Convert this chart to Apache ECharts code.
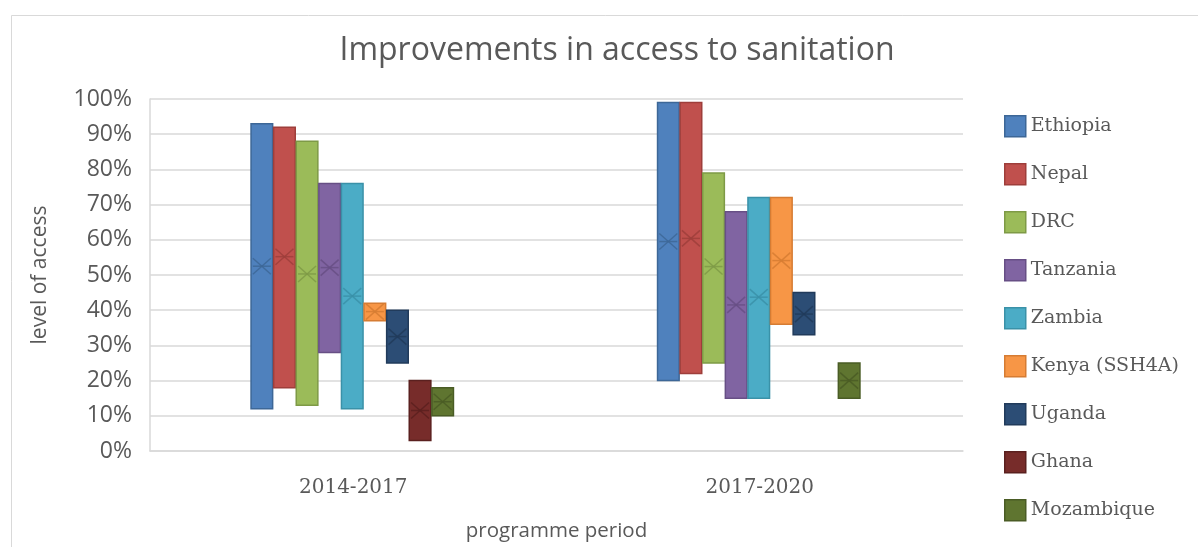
<!DOCTYPE html>
<html>
<head>
<meta charset="utf-8">
<style>
  html, body { margin: 0; padding: 0; background: #fff; }
  #chart { width: 1198px; height: 547px; }
</style>
<script src="https://cdn.jsdelivr.net/npm/echarts@6/dist/echarts.min.js"></script>
</head>
<body>
<div id="chart"></div>
<script>
// categories
const periods = ['2014-2017', '2017-2020']
const countries = ['Ethiopia', 'Nepal', 'DRC', 'Tanzania', 'Zambia', 'Kenya (SSH4A)', 'Uganda', 'Ghana', 'Mozambique']

// 2014-2017 (fractions of population)
const low1  = [0.12, 0.18, 0.13, 0.28, 0.12, 0.37, 0.25, 0.03, 0.10]
const high1 = [0.93, 0.92, 0.88, 0.76, 0.76, 0.42, 0.40, 0.20, 0.18]
const mean1 = [0.525, 0.552, 0.503, 0.521, 0.44, 0.396, 0.325, 0.115, 0.14]

// 2017-2020 (Ghana has no value)
const low2  = [0.20, 0.22, 0.25, 0.15, 0.15, 0.36, 0.33, null, 0.15]
const high2 = [0.99, 0.99, 0.79, 0.68, 0.72, 0.72, 0.45, null, 0.25]
const mean2 = [0.595, 0.604, 0.524, 0.415, 0.437, 0.541, 0.389, null, 0.20]

const fills   = ['#4F81BD', '#C0504D', '#9BBB59', '#8064A2', '#4BACC6', '#F79646', '#2C4D75', '#772C2A', '#5F7530']
const borders = ['#3D6797', '#9E3E3B', '#7E9A46', '#674F85', '#3A91A8', '#D67C33', '#213B5B', '#5A201F', '#4A5C25']

const chart = echarts.init(document.getElementById('chart'))

const barShare = 0.0556 // each box width as a share of the category band

function makeRenderer(k) {
  return function (params, api) {
    const cat = api.value(0)
    const top = api.coord([cat, api.value(2)])
    const bottom = api.coord([cat, api.value(1)])
    const mid = api.coord([cat, api.value(3)])
    const band = api.size([1, 0])[0]
    const w = band * barShare
    const x0 = top[0] - 4.5 * w + k * w - 1
    const cx = x0 + w / 2
    const markStyle = { stroke: borders[k], lineWidth: 1.5, opacity: 0.85 }
    return {
      type: 'group',
      children: [
        {
          type: 'rect',
          shape: { x: x0 + 0.5, y: top[1], width: w - 1, height: bottom[1] - top[1] },
          style: { fill: fills[k], stroke: borders[k], lineWidth: 1.5 }
        },
        { type: 'polyline', shape: { points: [[cx - 9, mid[1] - 8], [cx + 9, mid[1] + 8]] }, style: markStyle },
        { type: 'polyline', shape: { points: [[cx - 9, mid[1] + 8], [cx + 9, mid[1] - 8]] }, style: markStyle },
        { type: 'polyline', shape: { points: [[cx - 9, mid[1]], [cx + 9, mid[1]]] }, style: markStyle }
      ]
    }
  }
}

const series = countries.map((name, k) => {
  const data = []
  if (low1[k] != null) data.push([0, low1[k], high1[k], mean1[k]])
  if (low2[k] != null) data.push([1, low2[k], high2[k], mean2[k]])
  return {
    name,
    type: 'custom',
    renderItem: makeRenderer(k),
    itemStyle: { color: fills[k], borderColor: borders[k] },
    encode: { x: 0, y: [1, 2, 3] },
    data
  }
})

const option = {
  animation: false,
  backgroundColor: '#fff',
  graphic: [{
    type: 'rect',
    shape: { x: 11.5, y: 15.5, width: 1240, height: 600 },
    style: { fill: 'none', stroke: '#D9D9D9', lineWidth: 1 },
    silent: true
  }],
  title: {
    text: 'Improvements in access to sanitation',
    left: 612,
    top: 30,
    textAlign: 'center',
    textStyle: { fontFamily: 'Open Sans', fontSize: 32, fontWeight: 'normal', color: '#595959' }
  },
  legend: {
    orient: 'vertical',
    left: 999,
    top: 110,
    itemWidth: 21,
    itemHeight: 21,
    itemGap: 25.5,
    itemTextGap: 10,
    icon: 'rect',
    textStyle: { fontFamily: 'DejaVu Serif', fontSize: 19, color: '#595959' },
    data: countries.map((name, k) => ({
      name,
      itemStyle: { color: fills[k], borderColor: borders[k], borderWidth: 1.5 }
    }))
  },
  grid: { left: 150, right: 235, top: 99, bottom: 96 },
  xAxis: {
    type: 'category',
    data: periods,
    name: 'programme period',
    nameLocation: 'middle',
    nameGap: 70,
    nameTextStyle: { fontFamily: 'Open Sans', fontSize: 20.5, color: '#595959' },
    axisLine: { lineStyle: { color: '#D9D9D9', width: 1.5 } },
    axisTick: { show: false },
    axisLabel: { fontFamily: 'DejaVu Serif', fontSize: 20, color: '#595959', margin: 27 }
  },
  yAxis: {
    type: 'value',
    min: 0,
    max: 1,
    interval: 0.1,
    name: 'level of access',
    nameLocation: 'middle',
    nameRotate: 90,
    nameGap: 99,
    nameTextStyle: { fontFamily: 'Open Sans', fontSize: 21, color: '#595959' },
    axisLine: { show: true, lineStyle: { color: '#D9D9D9', width: 1.5 } },
    axisTick: { show: false },
    splitLine: { lineStyle: { color: '#D9D9D9', width: 1.5 } },
    axisLabel: {
      fontFamily: 'Open Sans',
      fontSize: 23,
      color: '#595959',
      margin: 18,
      formatter: v => Math.round(v * 100) + '%'
    }
  },
  series
}

chart.setOption(option)
</script>
</body>
</html>
